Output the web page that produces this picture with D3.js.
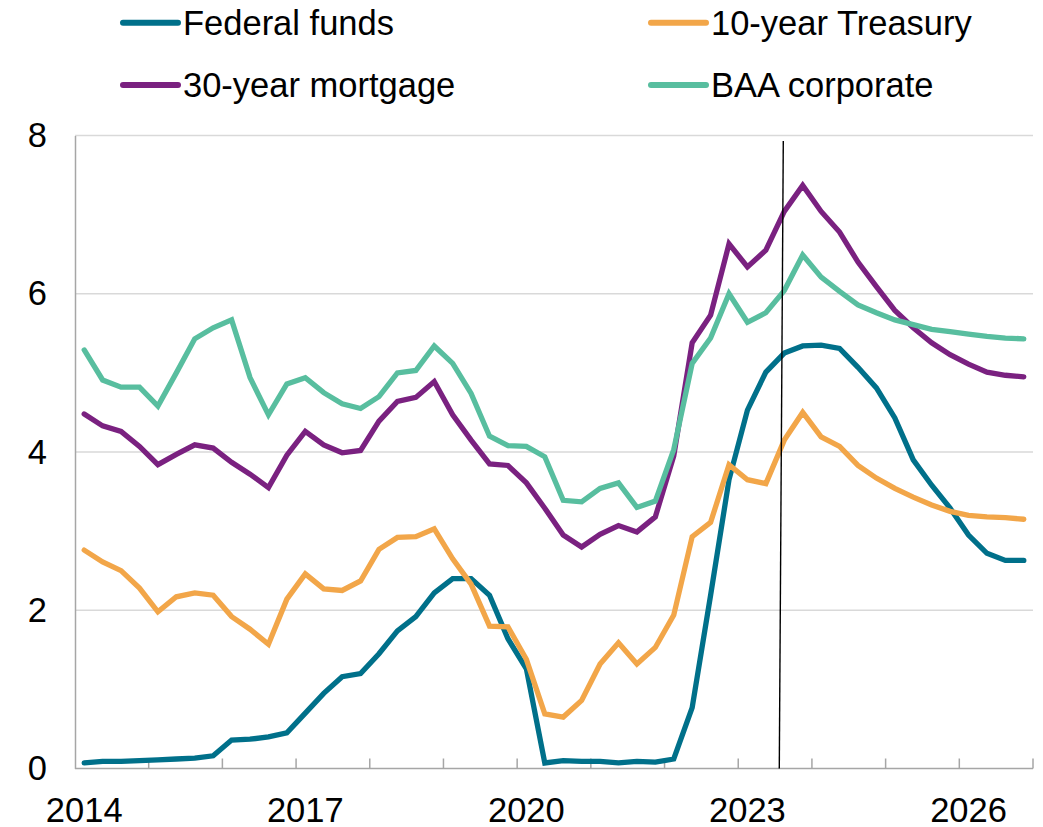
<!DOCTYPE html>
<html>
<head>
<meta charset="utf-8">
<script src="https://cdn.jsdelivr.net/npm/d3@7/dist/d3.min.js"></script>
<style>
  html, body { margin: 0; padding: 0; background: #fff; }
  svg { display: block; }
  text { font-family: "Liberation Sans", Arial, sans-serif; fill: #000; }
</style>
</head>
<body>
<svg id="chart" width="1043" height="827"></svg>
<script>
// Quarterly interest rates, 2014Q1 – 2026Q4 (percent)
const years = d3.range(2014, 2027);
const quarters = years.flatMap(y => [1, 2, 3, 4].map(q => `${y}Q${q}`));

const fedFunds = [
  0.07, 0.09, 0.09, 0.10,  0.11, 0.12, 0.13, 0.16,  0.36, 0.37, 0.40, 0.45,
  0.70, 0.95, 1.16, 1.20,  1.45, 1.74, 1.92, 2.22,  2.40, 2.40, 2.19, 1.64,
  1.26, 0.07, 0.10, 0.09,  0.09, 0.07, 0.09, 0.08,  0.12, 0.77, 2.19, 3.65,
  4.53, 5.01, 5.25, 5.34,  5.35, 5.31, 5.07, 4.81,  4.43, 3.90, 3.58, 3.29,
  2.95, 2.72, 2.63, 2.63
];
const treasury10 = [
  2.76, 2.61, 2.50, 2.28,  1.98, 2.17, 2.22, 2.19,  1.92, 1.76, 1.57, 2.14,
  2.46, 2.27, 2.25, 2.37,  2.77, 2.92, 2.93, 3.03,  2.65, 2.33, 1.80, 1.79,
  1.38, 0.69, 0.65, 0.86,  1.32, 1.59, 1.32, 1.53,  1.94, 2.93, 3.11, 3.84,
  3.65, 3.60, 4.15, 4.50,  4.19, 4.07, 3.83, 3.67,  3.54, 3.43, 3.33, 3.25,
  3.20, 3.18, 3.17, 3.15
];
const mortgage30 = [
  4.48, 4.33, 4.26, 4.07,  3.84, 3.97, 4.09, 4.05,  3.87, 3.72, 3.55, 3.96,
  4.26, 4.09, 3.99, 4.02,  4.39, 4.64, 4.69, 4.89,  4.47, 4.15, 3.85, 3.83,
  3.61, 3.29, 2.95, 2.80,  2.96, 3.07, 2.99, 3.18,  3.95, 5.38, 5.73, 6.63,
  6.34, 6.55, 7.04, 7.37,  7.04, 6.78, 6.40, 6.09,  5.79, 5.57, 5.38, 5.23,
  5.11, 5.01, 4.97, 4.95
];
const baaCorporate = [
  5.29, 4.91, 4.82, 4.82,  4.58, 5.00, 5.43, 5.57,  5.67, 4.94, 4.47, 4.86,
  4.94, 4.75, 4.61, 4.55,  4.70, 5.00, 5.03, 5.34,  5.12, 4.74, 4.20, 4.08,
  4.07, 3.94, 3.39, 3.37,  3.54, 3.61, 3.30, 3.38,  4.03, 5.12, 5.44, 6.00,
  5.64, 5.76, 6.04, 6.49,  6.21, 6.03, 5.86, 5.76,  5.67, 5.61, 5.55, 5.52,
  5.49, 5.46, 5.44, 5.43
];

const seriesNames = ["Federal funds", "10-year Treasury", "30-year mortgage", "BAA corporate"];
const seriesValues = [fedFunds, treasury10, mortgage30, baaCorporate];
const seriesColors = ["#00708A", "#F2A649", "#7A2180", "#58BE9F"];

const yTicks = [0, 2, 4, 6, 8];
const xTickLabels = [2014, 2017, 2020, 2023, 2026];
const forecastStart = "2023Q3";

const svg = d3.select("#chart");
const plot = { left: 75, right: 1033, top: 135.5, bottom: 768.5 };
const fontSize = "34.5px";

const x = d3.scaleBand().domain(quarters).range([plot.left, plot.right]);
const xc = q => x(q) + x.bandwidth() / 2;
const y = d3.scaleLinear().domain([0, 8]).range([plot.bottom, plot.top]);

// horizontal gridlines
svg.append("g")
  .selectAll("line")
  .data(yTicks.filter(v => v > 0))
  .join("line")
  .attr("x1", plot.left).attr("x2", plot.right)
  .attr("y1", d => y(d)).attr("y2", d => y(d))
  .attr("stroke", "#D9D9D9").attr("stroke-width", 1.3);

// y axis (labels only, plus the axis line)
const yAxis = svg.append("g")
  .attr("transform", `translate(${plot.left},0)`)
  .call(d3.axisLeft(y).tickValues(yTicks).tickSize(0).tickPadding(28).tickFormat(d3.format("d")));
yAxis.select(".domain").attr("stroke", "#A6A6A6").attr("stroke-width", 1.5);
yAxis.selectAll("text")
  .style("font-family", '"Liberation Sans", Arial, sans-serif')
  .style("font-size", fontSize).attr("fill", "#000");

// x axis: year boundaries as inward ticks, labels under each year's first quarter
const xAxis = svg.append("g").attr("transform", `translate(0,${plot.bottom})`);
xAxis.append("line")
  .attr("x1", plot.left).attr("x2", plot.right)
  .attr("stroke", "#A6A6A6").attr("stroke-width", 1.5);
xAxis.selectAll("line.tick")
  .data(years.slice(1).concat([null]))
  .join("line")
  .attr("class", "tick")
  .attr("x1", d => d === null ? plot.right : x(`${d}Q1`))
  .attr("x2", d => d === null ? plot.right : x(`${d}Q1`))
  .attr("y1", 0).attr("y2", -10)
  .attr("stroke", "#A6A6A6").attr("stroke-width", 1.5);
xAxis.selectAll("text")
  .data(xTickLabels)
  .join("text")
  .attr("x", d => xc(`${d}Q1`))
  .attr("y", 53)
  .attr("text-anchor", "middle")
  .style("font-size", fontSize)
  .text(d => d);

// series lines
const line = d3.line()
  .x((d, i) => xc(quarters[i]))
  .y(d => y(d));

svg.append("g")
  .selectAll("path")
  .data(seriesValues)
  .join("path")
  .attr("d", d => line(d))
  .attr("fill", "none")
  .attr("stroke", (d, i) => seriesColors[i])
  .attr("stroke-width", 5.3)
  .attr("stroke-linejoin", "miter")
  .attr("stroke-linecap", "round");

// forecast divider
svg.append("line")
  .attr("x1", xc(forecastStart) - 1).attr("y1", y(7.93))
  .attr("x2", xc(forecastStart) - 5).attr("y2", y(0))
  .attr("stroke", "#000").attr("stroke-width", 1.4);

// legend, two columns by two rows
const legendCols = [123, 651];
const legendRows = [22.7, 85];
const legend = svg.append("g")
  .selectAll("g")
  .data(seriesNames)
  .join("g")
  .attr("transform", (d, i) => `translate(${legendCols[i % 2]},${legendRows[Math.floor(i / 2)]})`);
legend.append("line")
  .attr("x1", 0).attr("x2", 55)
  .attr("stroke", (d, i) => seriesColors[i])
  .attr("stroke-width", 6)
  .attr("stroke-linecap", "round");
legend.append("text")
  .attr("x", 60).attr("y", 12)
  .style("font-size", fontSize)
  .text(d => d);
</script>
</body>
</html>
